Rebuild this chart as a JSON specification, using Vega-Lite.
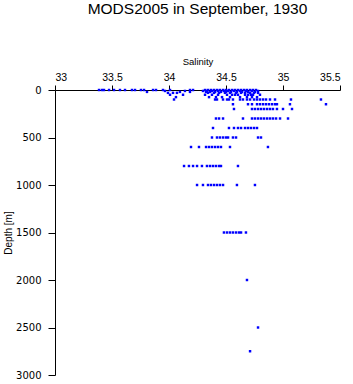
{
  "$schema": "https://vega.github.io/schema/vega-lite/v6.json",
  "width": 285,
  "height": 285,
  "autosize": "none",
  "padding": {"left": 55, "top": 90, "right": 13, "bottom": 9},
  "background": "white",
  "title": {
    "text": "MODS2005 in September, 1930",
    "font": "Liberation Sans",
    "fontSize": 15.5,
    "fontWeight": "normal",
    "color": "black",
    "anchor": "middle",
    "offset": 39
  },
  "config": {
    "view": {"stroke": null},
    "axis": {
      "labelFont": "Liberation Sans",
      "titleFont": "Liberation Sans",
      "labelFontSize": 10.5,
      "titleFontSize": 9.5,
      "titleFontWeight": "normal",
      "labelColor": "black",
      "titleColor": "black",
      "domainColor": "black",
      "tickColor": "black",
      "grid": false,
      "tickSize": 6
    }
  },
  "data": {
    "values": [
      {"S": 33.386, "D": 0}, {"S": 33.412, "D": 0}, {"S": 33.43, "D": 0}, {"S": 33.474, "D": 0}, {"S": 33.518, "D": 0},
      {"S": 33.57, "D": 0}, {"S": 33.614, "D": 0}, {"S": 33.675, "D": 0}, {"S": 33.702, "D": 0}, {"S": 33.754, "D": 0},
      {"S": 33.781, "D": 0}, {"S": 33.86, "D": 0}, {"S": 33.886, "D": 0}, {"S": 33.947, "D": 0}, {"S": 34.009, "D": 0},
      {"S": 34.184, "D": 0}, {"S": 34.211, "D": 0}, {"S": 34.316, "D": 0}, {"S": 34.342, "D": 0}, {"S": 34.368, "D": 0},
      {"S": 34.395, "D": 0}, {"S": 34.421, "D": 0}, {"S": 34.447, "D": 0}, {"S": 34.474, "D": 0}, {"S": 34.5, "D": 0},
      {"S": 34.526, "D": 0}, {"S": 34.553, "D": 0}, {"S": 34.579, "D": 0}, {"S": 34.605, "D": 0}, {"S": 34.632, "D": 0},
      {"S": 34.658, "D": 0}, {"S": 34.684, "D": 0}, {"S": 34.711, "D": 0}, {"S": 34.737, "D": 0}, {"S": 34.763, "D": 0},
      {"S": 33.965, "D": 10}, {"S": 34.14, "D": 10}, {"S": 34.298, "D": 10}, {"S": 34.333, "D": 10}, {"S": 34.377, "D": 10},
      {"S": 34.43, "D": 10}, {"S": 34.482, "D": 10}, {"S": 34.518, "D": 10}, {"S": 34.57, "D": 10}, {"S": 34.623, "D": 10},
      {"S": 34.675, "D": 10}, {"S": 34.728, "D": 10}, {"S": 34.781, "D": 10},
      {"S": 33.807, "D": 20}, {"S": 34.096, "D": 20}, {"S": 34.184, "D": 20}, {"S": 34.325, "D": 20}, {"S": 34.36, "D": 20},
      {"S": 34.404, "D": 20}, {"S": 34.456, "D": 20}, {"S": 34.5, "D": 20}, {"S": 34.544, "D": 20}, {"S": 34.596, "D": 20},
      {"S": 34.64, "D": 20}, {"S": 34.693, "D": 20}, {"S": 34.754, "D": 20},
      {"S": 33.991, "D": 30}, {"S": 34.035, "D": 30}, {"S": 34.07, "D": 30}, {"S": 34.342, "D": 30}, {"S": 34.395, "D": 30},
      {"S": 34.439, "D": 30}, {"S": 34.491, "D": 30}, {"S": 34.535, "D": 30}, {"S": 34.588, "D": 30}, {"S": 34.632, "D": 30},
      {"S": 34.667, "D": 30}, {"S": 34.711, "D": 30}, {"S": 34.746, "D": 30}, {"S": 34.781, "D": 30},
      {"S": 34.009, "D": 50}, {"S": 34.123, "D": 50}, {"S": 34.316, "D": 50}, {"S": 34.377, "D": 50}, {"S": 34.43, "D": 50},
      {"S": 34.509, "D": 50}, {"S": 34.553, "D": 50}, {"S": 34.579, "D": 50}, {"S": 34.605, "D": 50}, {"S": 34.667, "D": 50},
      {"S": 34.693, "D": 50}, {"S": 34.719, "D": 50}, {"S": 34.737, "D": 50}, {"S": 34.798, "D": 50},
      {"S": 34.061, "D": 75}, {"S": 34.351, "D": 75}, {"S": 34.412, "D": 75}, {"S": 34.465, "D": 75}, {"S": 34.535, "D": 75},
      {"S": 34.623, "D": 75}, {"S": 34.684, "D": 75}, {"S": 34.728, "D": 75}, {"S": 34.772, "D": 75},
      {"S": 34.044, "D": 100}, {"S": 34.404, "D": 100}, {"S": 34.421, "D": 100}, {"S": 34.474, "D": 100}, {"S": 34.509, "D": 100},
      {"S": 34.526, "D": 100}, {"S": 34.561, "D": 100}, {"S": 34.623, "D": 100}, {"S": 34.649, "D": 100}, {"S": 34.684, "D": 100},
      {"S": 34.711, "D": 100}, {"S": 34.746, "D": 100}, {"S": 34.772, "D": 100}, {"S": 34.798, "D": 100}, {"S": 34.825, "D": 100},
      {"S": 34.851, "D": 100}, {"S": 34.886, "D": 100}, {"S": 34.93, "D": 100}, {"S": 35.07, "D": 100}, {"S": 35.333, "D": 100},
      {"S": 34.561, "D": 150}, {"S": 34.693, "D": 150}, {"S": 34.728, "D": 150}, {"S": 34.772, "D": 150}, {"S": 34.798, "D": 150},
      {"S": 34.825, "D": 150}, {"S": 34.851, "D": 150}, {"S": 34.877, "D": 150}, {"S": 34.904, "D": 150}, {"S": 34.93, "D": 150},
      {"S": 34.947, "D": 150}, {"S": 35.061, "D": 150}, {"S": 35.377, "D": 150},
      {"S": 34.57, "D": 200}, {"S": 34.728, "D": 200}, {"S": 34.754, "D": 200}, {"S": 34.781, "D": 200}, {"S": 34.807, "D": 200},
      {"S": 34.833, "D": 200}, {"S": 34.86, "D": 200}, {"S": 34.886, "D": 200}, {"S": 34.912, "D": 200}, {"S": 34.947, "D": 200},
      {"S": 35.0, "D": 200}, {"S": 35.079, "D": 200},
      {"S": 34.412, "D": 300}, {"S": 34.439, "D": 300}, {"S": 34.474, "D": 300}, {"S": 34.649, "D": 300}, {"S": 34.728, "D": 300},
      {"S": 34.754, "D": 300}, {"S": 34.781, "D": 300}, {"S": 34.807, "D": 300}, {"S": 34.833, "D": 300}, {"S": 34.86, "D": 300},
      {"S": 34.886, "D": 300}, {"S": 34.912, "D": 300}, {"S": 34.939, "D": 300}, {"S": 34.974, "D": 300}, {"S": 35.044, "D": 300},
      {"S": 34.386, "D": 400}, {"S": 34.526, "D": 400}, {"S": 34.57, "D": 400}, {"S": 34.605, "D": 400}, {"S": 34.632, "D": 400},
      {"S": 34.667, "D": 400}, {"S": 34.693, "D": 400}, {"S": 34.719, "D": 400}, {"S": 34.746, "D": 400}, {"S": 34.772, "D": 400},
      {"S": 34.377, "D": 500}, {"S": 34.421, "D": 500}, {"S": 34.447, "D": 500}, {"S": 34.474, "D": 500}, {"S": 34.5, "D": 500},
      {"S": 34.518, "D": 500}, {"S": 34.561, "D": 500}, {"S": 34.588, "D": 500}, {"S": 34.781, "D": 500}, {"S": 34.807, "D": 500},
      {"S": 34.193, "D": 600}, {"S": 34.263, "D": 600}, {"S": 34.325, "D": 600}, {"S": 34.351, "D": 600}, {"S": 34.377, "D": 600},
      {"S": 34.404, "D": 600}, {"S": 34.43, "D": 600}, {"S": 34.456, "D": 600}, {"S": 34.535, "D": 600}, {"S": 34.868, "D": 600},
      {"S": 34.132, "D": 800}, {"S": 34.175, "D": 800}, {"S": 34.211, "D": 800}, {"S": 34.246, "D": 800}, {"S": 34.289, "D": 800},
      {"S": 34.333, "D": 800}, {"S": 34.36, "D": 800}, {"S": 34.386, "D": 800}, {"S": 34.412, "D": 800}, {"S": 34.439, "D": 800},
      {"S": 34.456, "D": 800}, {"S": 34.605, "D": 800},
      {"S": 34.246, "D": 1000}, {"S": 34.298, "D": 1000}, {"S": 34.342, "D": 1000}, {"S": 34.368, "D": 1000}, {"S": 34.395, "D": 1000},
      {"S": 34.421, "D": 1000}, {"S": 34.447, "D": 1000}, {"S": 34.474, "D": 1000}, {"S": 34.596, "D": 1000}, {"S": 34.754, "D": 1000},
      {"S": 34.482, "D": 1500}, {"S": 34.509, "D": 1500}, {"S": 34.535, "D": 1500}, {"S": 34.561, "D": 1500}, {"S": 34.588, "D": 1500},
      {"S": 34.614, "D": 1500}, {"S": 34.632, "D": 1500}, {"S": 34.675, "D": 1500},
      {"S": 34.684, "D": 2000},
      {"S": 34.781, "D": 2500},
      {"S": 34.711, "D": 2750}
    ]
  },
  "mark": {"type": "square", "filled": true, "color": "#0000ff", "opacity": 1, "size": 6},
  "encoding": {
    "x": {
      "field": "S",
      "type": "quantitative",
      "scale": {"domain": [33, 35.5], "nice": false, "zero": false},
      "axis": {
        "orient": "top",
        "title": "Salinity",
        "values": [33, 33.5, 34, 34.5, 35, 35.5],
        "format": "~g",
        "tickSize": 5,
        "labelPadding": 3,
        "titlePadding": 6
      }
    },
    "y": {
      "field": "D",
      "type": "quantitative",
      "scale": {"domain": [0, 3000], "reverse": true, "nice": false},
      "axis": {
        "title": "Depth [m]",
        "values": [0, 500, 1000, 1500, 2000, 2500, 3000],
        "format": "d",
        "labelFont": "DejaVu Sans",
        "labelFontSize": 10,
        "tickSize": 7,
        "labelPadding": 7,
        "titleFontSize": 10,
        "titlePadding": 2
      }
    }
  }
}
